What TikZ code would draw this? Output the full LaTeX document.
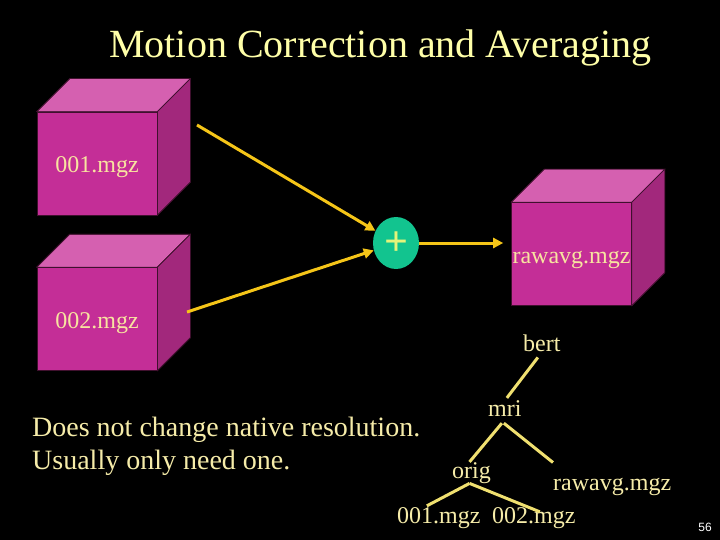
\documentclass[tikz,border=0pt]{standalone}
\usepackage{fontspec}
\setmainfont{Liberation Serif}
\newfontfamily\numfont{Liberation Sans}
\usetikzlibrary{arrows.meta,shapes.geometric}
\definecolor{frontc}{HTML}{C42E97}
\definecolor{topc}{HTML}{D560B0}
\definecolor{sidec}{HTML}{A2287C}
\definecolor{tealc}{HTML}{12C48F}
\definecolor{arrc}{HTML}{F5C518}
\definecolor{treec}{HTML}{F0E070}
\definecolor{titlec}{HTML}{FFFFA8}
\definecolor{labc}{HTML}{F8E4A0}
\definecolor{edgec}{HTML}{40102E}
\definecolor{plusc}{HTML}{E4F47A}
\tikzset{
  front/.style={fill=frontc, draw=edgec, line width=0.6pt, minimum width=120pt, minimum height=103pt, inner sep=0pt, text=labc, font=\fontsize{24}{28}\selectfont, text height=18.4pt, text depth=0pt},
  topface/.style={fill=topc, draw=edgec, line width=0.6pt},
  sideface/.style={fill=sidec, draw=edgec, line width=0.6pt},
  arr/.style={draw=arrc, line width=3pt, -{Triangle[length=10pt,width=10pt]}},
  treeline/.style={draw=treec, line width=3pt},
  treetxt/.style={text=treec!60!white, font=\fontsize{24}{28}\selectfont, inner sep=0pt, anchor=base west},
  bodytxt/.style={text=treec!60!white, font=\fontsize{28}{33}\selectfont, inner sep=0pt, anchor=base west},
}
\newcommand\mycube[1]{%
  \fill[topface] (#1.north west) -- ++(33,-33) -- ([shift={(33pt,33pt)}]#1.north east) -- (#1.north east) -- cycle;
  \fill[sideface] (#1.north east) -- ++(33,-33) -- ([shift={(33pt,33pt)}]#1.south east) -- (#1.south east) -- cycle;
  \draw[topface,fill=none] (#1.north west) -- ++(33,-33) -- ([shift={(33pt,33pt)}]#1.north east) -- (#1.north east);
  \draw[sideface,fill=none] ([shift={(33pt,33pt)}]#1.north east) -- ([shift={(33pt,33pt)}]#1.south east) -- (#1.south east);
}
\begin{document}
\begin{tikzpicture}[x=1pt,y=-1pt]
\fill[black] (0,0) rectangle (720,540);
\useasboundingbox (0,0) rectangle (720,540);

\node[anchor=base west, inner sep=0pt, text=titlec, font=\fontsize{40}{46}\selectfont] (title) at (109,58) {Motion Correction and Averaging};

% cubes
\node[front] (c1) at (97,163.5) {001.mgz};
\mycube{c1}
\node[front] (c1) at (97,163.5) {001.mgz};

\node[front] (c2) at (97,319) {002.mgz};
\mycube{c2}
\node[front] (c2) at (97,319) {002.mgz};

\node[front] (c3) at (571.5,254) {rawavg.mgz};
\mycube{c3}
\node[front] (c3) at (571.5,254) {rawavg.mgz};

% plus
\node[ellipse, fill=tealc, minimum width=46pt, minimum height=52pt, inner sep=0pt, text=plusc, font=\bfseries\fontsize{42}{44}\selectfont, text height=24pt, text depth=0pt] (plus) at (396,243) {+};

\coordinate (s1) at (197,125);
\coordinate (s2) at (187,312);
\draw[arr] (s1) -- (plus);
\draw[arr] (s2) -- (plus);
\draw[arr, shorten >=8pt] (plus.east) -- (c3.west |- plus.east);

% body text
\node[bodytxt] (t1) at (32,436) {Does not change native resolution.};
\node[bodytxt] (t2) at (32,469) {Usually only need one.};

% tree
\node[treetxt] (bert) at (523,351) {bert};
\node[treetxt] (mri) at (488,416) {mri};
\node[treetxt] (orig) at (452,478) {orig};
\node[treetxt] (rawavg2) at (553,490) {rawavg.mgz};
\node[treetxt] (f1) at (397,523) {001.mgz};
\node[treetxt] (f2) at (492,523) {002.mgz};

\draw[treeline] ([shift={(-4pt,-6pt)}]bert.south) -- ([shift={(2pt,2pt)}]mri.north);
\draw[treeline] ([shift={(-3pt,-7pt)}]mri.south) -- ([shift={(-2pt,0pt)}]orig.north);
\draw[treeline] ([shift={(-1pt,-7pt)}]mri.south) -- ([shift={(0pt,15pt)}]rawavg2.north west);
\draw[treeline] ([shift={(-2pt,0pt)}]orig.south) -- ([shift={(-12pt,1pt)}]f1.north);
\draw[treeline] ([shift={(-2pt,0pt)}]orig.south) -- ([shift={(6pt,-5pt)}]f2.north);

\node[text=white, font=\numfont\fontsize{12}{14}\selectfont, inner sep=0pt] (pg) at (705,527) {56};
\end{tikzpicture}
\end{document}
